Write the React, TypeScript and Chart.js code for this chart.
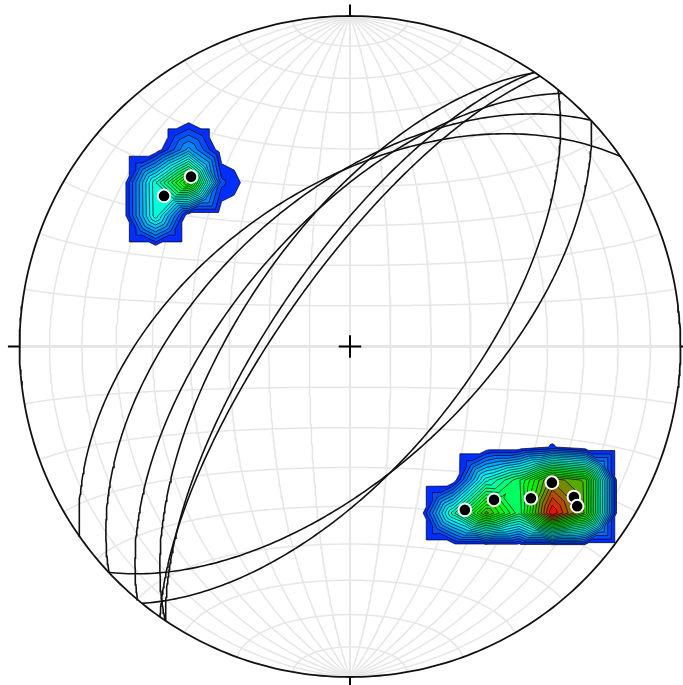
import { useEffect, useRef } from 'react';
import { Chart, registerables } from 'chart.js';

Chart.register(...registerables);

// Planes read from the net (right-hand-rule strike / dip, degrees)
const planeStrikes = [234.9, 226.8, 220.0, 214.0, 213.9, 215.1, 46.9, 39.0];
const planeDips = [50.6, 53.5, 60.7, 62.8, 70.5, 72.9, 59.7, 61.6];

// Schmidt net grid (degrees)
const gridMeridianDips = [10, 20, 30, 40, 50, 60, 70, 80];
const gridParallelAngles = [10, 20, 30, 40, 50, 60, 70, 80];

// Pole density settings
const densityConeDeg = 8.5;
const densityLevelCount = 24;
const densityCellSize = 0.1;
const densityCellOffset = [0.0118, -0.0041];

const W = 683;
const H = 685;
const CX = 350;
const CY = 346.5;
const R = 330.5;
const X_MIN = -CX / R;
const X_MAX = (W - CX) / R;
const Y_MAX = CY / R;
const Y_MIN = -(H - CY) / R;
const D2R = Math.PI / 180;

type P = { x: number; y: number };

function project(e: number, n: number, u: number): P {
  if (u > 0) { e = -e; n = -n; u = -u; }
  const s = Math.sqrt(1 - u);
  return { x: e / s, y: n / s };
}

function greatCircle(strike: number, dip: number): P[] {
  const s = strike * D2R, dd = (strike + 90) * D2R, d = dip * D2R;
  const S = [Math.sin(s), Math.cos(s), 0];
  const D = [Math.sin(dd) * Math.cos(d), Math.cos(dd) * Math.cos(d), -Math.sin(d)];
  const pts: P[] = [];
  for (let k = 0; k <= 180; k++) {
    const t = k * D2R;
    const c = Math.cos(t), sn = Math.sin(t);
    pts.push(project(c * S[0] + sn * D[0], c * S[1] + sn * D[1], Math.min(0, c * S[2] + sn * D[2])));
  }
  return pts;
}

function smallCircleNS(alpha: number, north: boolean): P[] {
  const a = alpha * D2R;
  const n = (north ? 1 : -1) * Math.cos(a);
  const pts: P[] = [];
  for (let k = 0; k <= 180; k++) {
    const f = k * D2R;
    pts.push(project(Math.sin(a) * Math.cos(f), n, -Math.sin(a) * Math.sin(f)));
  }
  return pts;
}

function poleVectors(): number[][] {
  return planeStrikes.map((s, i) => {
    const tr = (s + 270) * D2R;
    const pl = (90 - planeDips[i]) * D2R;
    return [Math.sin(tr) * Math.cos(pl), Math.cos(tr) * Math.cos(pl), -Math.sin(pl)];
  });
}

function densityAt(x: number, y: number, poles: number[][]): number {
  let r2 = x * x + y * y;
  if (r2 > 1) { const r = Math.sqrt(r2); x /= r; y /= r; r2 = 1; }
  const k = Math.sqrt(2 - r2);
  const v = [x * k, y * k, -(1 - r2)];
  const tc = densityConeDeg * D2R;
  let s = 0;
  for (const p of poles) {
    const c = Math.min(1, Math.abs(v[0] * p[0] + v[1] * p[1] + v[2] * p[2]));
    const th = Math.acos(c);
    if (th < tc) s += 1 - Math.pow(th / tc, 4);
  }
  return s;
}

const cmapStops: [number, number[]][] = [
  [0, [0, 0, 255]],
  [1 / 3, [0, 255, 255]],
  [2 / 3, [0, 255, 0]],
  [1, [255, 0, 0]],
];

function cmap(t: number): string {
  t = Math.max(0, Math.min(1, t));
  for (let i = 1; i < cmapStops.length; i++) {
    const [t1, c1] = cmapStops[i];
    const [t0, c0] = cmapStops[i - 1];
    if (t <= t1) {
      const f = (t - t0) / (t1 - t0);
      const c = c0.map((v, k) => Math.round(v + f * (c1[k] - v)));
      return `rgb(${c[0]},${c[1]},${c[2]})`;
    }
  }
  return 'rgb(255,0,0)';
}

type V3 = [number, number, number];

function clipPoly(pts: V3[], L: number): V3[] {
  const out: V3[] = [];
  for (let a = 0; a < pts.length; a++) {
    const Pp = pts[a], Q = pts[(a + 1) % pts.length];
    const pin = Pp[2] >= L, qin = Q[2] >= L;
    if (pin) out.push(Pp);
    if (pin !== qin) {
      const t = (L - Pp[2]) / (Q[2] - Pp[2]);
      out.push([Pp[0] + t * (Q[0] - Pp[0]), Pp[1] + t * (Q[1] - Pp[1]), L]);
    }
  }
  return out;
}

function drawDensity(chart: any) {
  const xs = chart.scales.x, ys = chart.scales.y, ctx: CanvasRenderingContext2D = chart.ctx;
  const poles = poleVectors();
  const step = densityCellSize;
  const [ox, oy] = densityCellOffset;
  const i0 = Math.floor((-1.05 - ox) / step), i1 = Math.ceil((1.05 - ox) / step);
  const j0 = Math.floor((-1.05 - oy) / step), j1 = Math.ceil((1.05 - oy) / step);
  const nx = i1 - i0 + 1, ny = j1 - j0 + 1;
  const val: number[][] = [];
  const px: number[] = [], py: number[] = [];
  let vmax = 0;
  for (let i = 0; i < nx; i++) px.push(xs.getPixelForValue(ox + (i0 + i) * step));
  for (let j = 0; j < ny; j++) {
    py.push(ys.getPixelForValue(oy + (j0 + j) * step));
    const row: number[] = [];
    for (let i = 0; i < nx; i++) {
      const v = densityAt(ox + (i0 + i) * step, oy + (j0 + j) * step, poles);
      row.push(v);
      if (v > vmax) vmax = v;
    }
    val.push(row);
  }
  if (vmax <= 0) return;
  const tris: V3[][] = [];
  for (let j = 0; j < ny - 1; j++) {
    for (let i = 0; i < nx - 1; i++) {
      const a: V3 = [px[i], py[j], val[j][i]];
      const b: V3 = [px[i + 1], py[j], val[j][i + 1]];
      const c: V3 = [px[i + 1], py[j + 1], val[j + 1][i + 1]];
      const d: V3 = [px[i], py[j + 1], val[j + 1][i]];
      if (a[2] + b[2] + c[2] + d[2] <= 0) continue;
      const m: V3 = [(a[0] + b[0]) / 2, (a[1] + d[1]) / 2, (a[2] + b[2] + c[2] + d[2]) / 4];
      tris.push([a, b, m], [b, c, m], [c, d, m], [d, a, m]);
    }
  }
  const levels: number[] = [];
  for (let k = 1; k <= densityLevelCount; k++) levels.push((vmax * k) / (densityLevelCount + 1));

  const cx = xs.getPixelForValue(0), cy = ys.getPixelForValue(0);
  const rr = xs.getPixelForValue(1) - cx;
  ctx.save();
  ctx.beginPath();
  ctx.arc(cx, cy, rr, 0, Math.PI * 2);
  ctx.clip();
  levels.forEach((L, k) => {
    ctx.beginPath();
    for (const t of tris) {
      if (t[0][2] < L && t[1][2] < L && t[2][2] < L) continue;
      const poly = clipPoly(t, L);
      if (poly.length < 3) continue;
      ctx.moveTo(poly[0][0], poly[0][1]);
      for (let q = 1; q < poly.length; q++) ctx.lineTo(poly[q][0], poly[q][1]);
      ctx.closePath();
    }
    ctx.fillStyle = cmap((k + 1.5) / (densityLevelCount + 1));
    ctx.fill();
  });
  ctx.beginPath();
  for (const L of levels) {
    for (const t of tris) {
      const pts: number[][] = [];
      for (let e = 0; e < 3; e++) {
        const A = t[e], B = t[(e + 1) % 3];
        if ((A[2] >= L) !== (B[2] >= L)) {
          const f = (L - A[2]) / (B[2] - A[2]);
          pts.push([A[0] + f * (B[0] - A[0]), A[1] + f * (B[1] - A[1])]);
        }
      }
      if (pts.length === 2) {
        ctx.moveTo(pts[0][0], pts[0][1]);
        ctx.lineTo(pts[1][0], pts[1][1]);
      }
    }
  }
  ctx.strokeStyle = '#000';
  ctx.lineWidth = 0.7;
  ctx.stroke();
  ctx.restore();
}

const densityPlugin = {
  id: 'poleDensity',
  beforeDatasetsDraw(chart: any) { chart.$densityDone = false; },
  beforeDatasetDraw(chart: any, args: any) {
    const ds = chart.data.datasets[args.index];
    if (ds.netGrid || chart.$densityDone) return;
    chart.$densityDone = true;
    drawDensity(chart);
  },
};

function lineDs(pts: P[], color: string, width: number, order: number, grid = false) {
  return {
    data: pts, showLine: true, pointRadius: 0, pointHoverRadius: 0,
    borderColor: color, backgroundColor: color, borderWidth: width,
    fill: false, order, netGrid: grid, clip: false,
  };
}

function buildConfig(): any {
  const datasets: any[] = [];
  const gridColor = '#e6e6e6';
  for (const d of gridMeridianDips) {
    datasets.push(lineDs(greatCircle(0, d), gridColor, 1.5, 5, true));
    datasets.push(lineDs(greatCircle(180, d), gridColor, 1.5, 5, true));
  }
  datasets.push(lineDs(greatCircle(0, 90), gridColor, 2, 5, true));
  for (const a of gridParallelAngles) {
    datasets.push(lineDs(smallCircleNS(a, true), gridColor, 1.5, 5, true));
    datasets.push(lineDs(smallCircleNS(a, false), gridColor, 1.5, 5, true));
  }
  datasets.push(lineDs(smallCircleNS(90, true), gridColor, 3, 5, true));

  planeStrikes.forEach((s, i) => datasets.push(lineDs(greatCircle(s, planeDips[i]), '#111', 1.6, 2)));

  const prim: P[] = [];
  for (let k = 0; k <= 360; k++) prim.push({ x: Math.cos(k * D2R), y: Math.sin(k * D2R) });
  datasets.push(lineDs(prim, '#111', 1.8, 1));
  const tk = 1.035, cr = 0.034;
  datasets.push(lineDs([{ x: 0, y: 1 }, { x: 0, y: tk }], '#000', 2, 1));
  datasets.push(lineDs([{ x: 0, y: -1 }, { x: 0, y: -tk }], '#000', 2, 1));
  datasets.push(lineDs([{ x: 1, y: 0 }, { x: tk, y: 0 }], '#000', 2, 1));
  datasets.push(lineDs([{ x: -1, y: 0 }, { x: -tk, y: 0 }], '#000', 2, 1));
  datasets.push(lineDs([{ x: -cr, y: 0 }, { x: cr, y: 0 }], '#000', 2, 1));
  datasets.push(lineDs([{ x: 0, y: -cr }, { x: 0, y: cr }], '#000', 2, 1));

  const poles = poleVectors().map((v) => project(v[0], v[1], v[2]));
  datasets.push({
    data: poles, showLine: false, pointRadius: 6.3, pointHoverRadius: 6.3,
    pointBackgroundColor: '#000', pointBorderColor: '#fff', pointBorderWidth: 2,
    order: 0, clip: false,
  });

  return {
    type: 'scatter',
    data: { datasets },
    options: {
      animation: false,
      responsive: false,
      devicePixelRatio: 1,
      events: [],
      layout: { padding: 0, autoPadding: false },
      plugins: { legend: { display: false }, tooltip: { enabled: false } },
      scales: {
        x: { type: 'linear', min: X_MIN, max: X_MAX, display: false },
        y: { type: 'linear', min: Y_MIN, max: Y_MAX, display: false },
      },
    },
    plugins: [densityPlugin],
  };
}

export default function App() {
  const ref = useRef<HTMLCanvasElement>(null);
  useEffect(() => {
    const chart = new Chart(ref.current as HTMLCanvasElement, buildConfig());
    return () => chart.destroy();
  }, []);
  return (
    <div style={{ position: 'absolute', left: 0, top: 0, width: W, height: H, background: '#fff' }}>
      <canvas ref={ref} width={W} height={H} style={{ display: 'block', width: W, height: H }} />
    </div>
  );
}
